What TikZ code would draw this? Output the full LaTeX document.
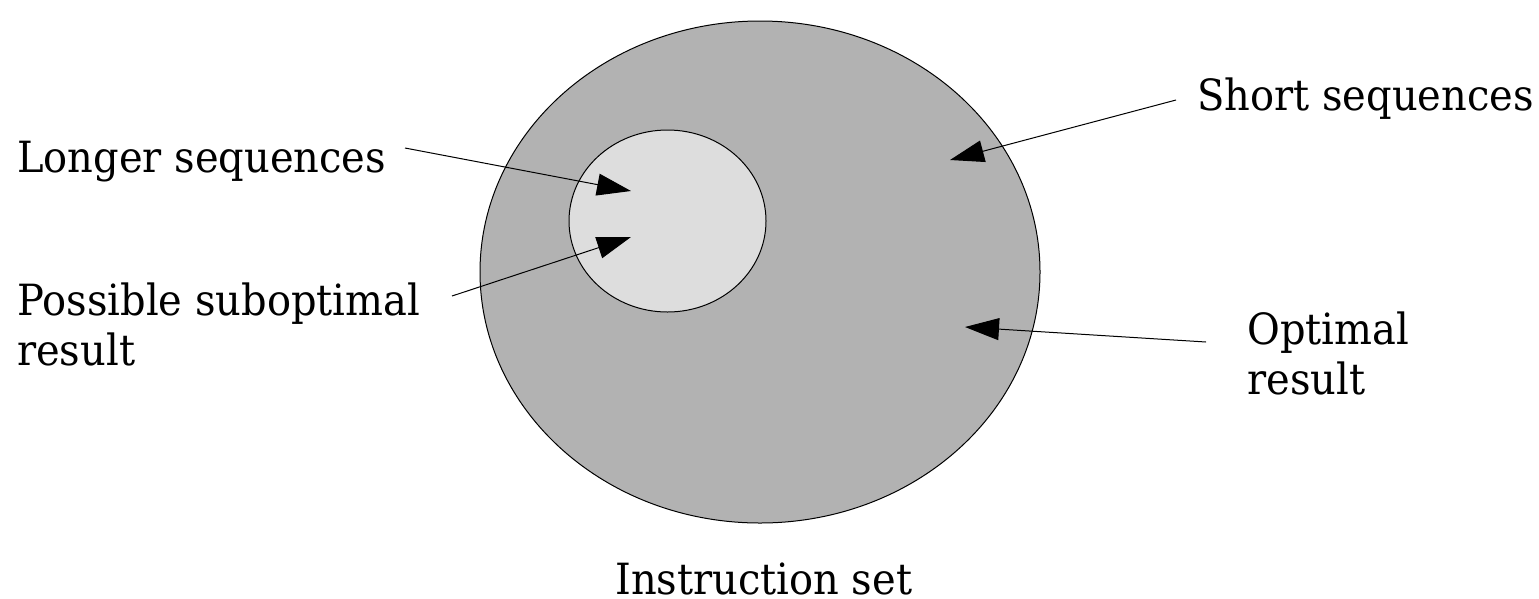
\documentclass[tikz,border=0pt]{standalone}
\usepackage{fontspec}
\setmainfont{DejaVu Serif}[FakeStretch=0.93]
\usetikzlibrary{arrows.meta,shapes.geometric}
\definecolor{outerfill}{RGB}{178,178,178}
\definecolor{innerfill}{RGB}{221,221,221}
\begin{document}
\begin{tikzpicture}[x=1pt,y=-1pt,
  lbl/.style={inner sep=0pt,anchor=base west,align=left,font=\fontsize{43}{49.5}\selectfont},
  pointer/.style={line width=1pt,-{Triangle[length=34pt,width=22pt]}},
  region/.style={draw=black,line width=1pt}]
\useasboundingbox (0,0) rectangle (1539,598);
% regions
\node[region,fill=outerfill,ellipse,minimum width=560pt,minimum height=502pt,inner sep=0pt] (outer) at (760,272) {};
\node[region,fill=innerfill,ellipse,minimum width=197pt,minimum height=182pt,inner sep=0pt] (inner) at (667.5,221) {};
% labels (base anchor of a two-line label is the baseline of its last line)
\node[lbl] (longer) at (17,172) {Longer sequences};
\node[lbl] (subopt) at (17,365) {Possible suboptimal\\result};
\node[lbl] (short) at (1197,110) {Short sequences};
\node[lbl] (optimal) at (1247,394) {Optimal\\result};
\node[lbl,text depth=0pt] (instr) at (615,594) {Instruction set};
% arrow end points
\coordinate (longerTail) at (405,148);
\coordinate (longerTip) at (631,191);
\coordinate (suboptTail) at (452,296);
\coordinate (suboptTip) at (631,237);
\coordinate (shortTail) at (1176,100);
\coordinate (shortTip) at (950,160);
\coordinate (optimalTail) at (1206,342);
\coordinate (optimalTip) at (965,327);
\draw[pointer] (longerTail) -- (longerTip);
\draw[pointer] (suboptTail) -- (suboptTip);
\draw[pointer] (shortTail) -- (shortTip);
\draw[pointer] (optimalTail) -- (optimalTip);
\end{tikzpicture}
\end{document}
